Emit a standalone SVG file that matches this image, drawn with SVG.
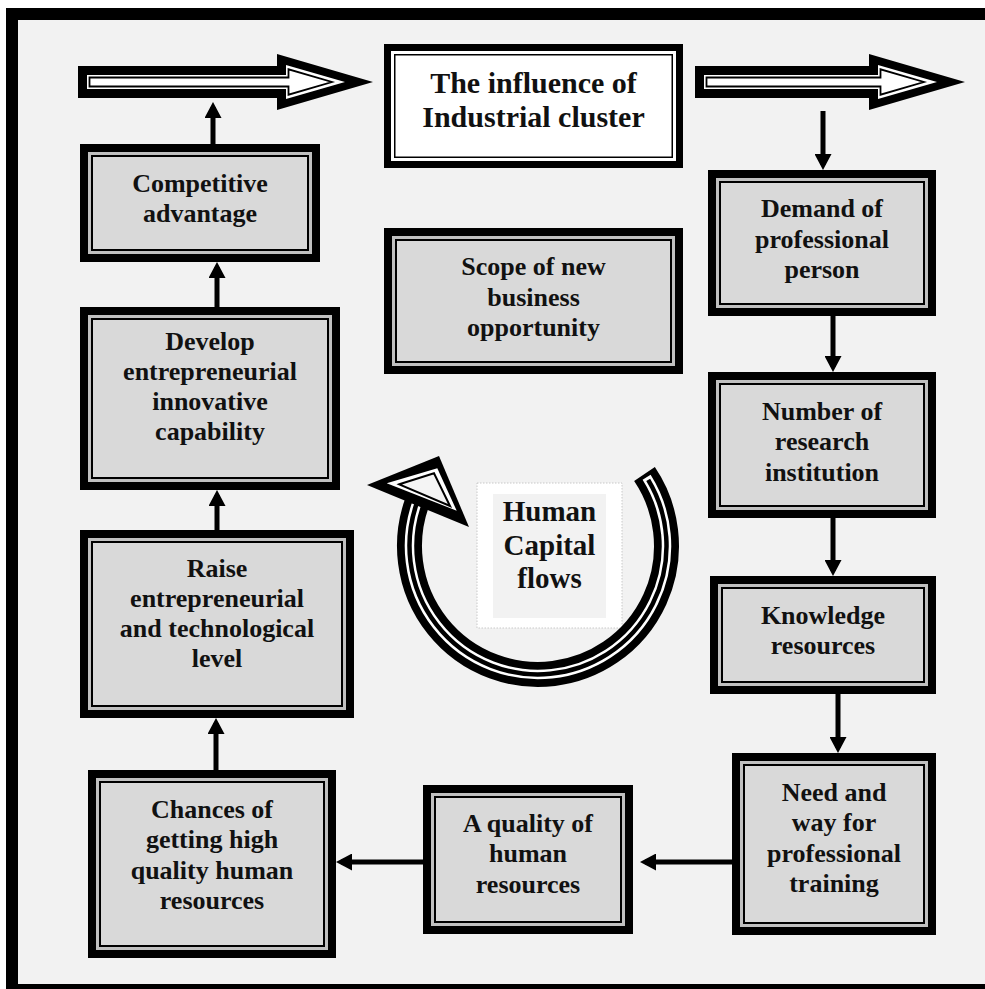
<svg xmlns="http://www.w3.org/2000/svg" width="985" height="989" viewBox="0 0 985 989">
  <style>
    .t { font-family: "Liberation Serif", "Times New Roman", serif; font-weight: bold; font-size: 26px; fill: #111; text-anchor: middle; }
    .tl { font-size: 30px; }
    .th { font-size: 29px; }
    .bo { fill: #c0c0c0; stroke: #000; stroke-width: 8; }
    .bi { fill: #d9d9d9; stroke: #000; stroke-width: 2; }
    .wo { fill: #fff; stroke: #000; stroke-width: 7; }
    .wi { fill: #fff; stroke: #000; stroke-width: 1.5; }
    .ln { stroke: #000; stroke-width: 5; fill: none; marker-end: url(#ah); }
  </style>
  <defs>
    <marker id="ah" markerUnits="userSpaceOnUse" viewBox="0 0 17 17" markerWidth="17" markerHeight="17" refX="11" refY="8.5" orient="auto">
      <path d="M0,0 L16,8.5 L0,17 z" fill="#000"/>
    </marker>
  </defs>

  <!-- page frame -->
  <rect x="0" y="0" width="985" height="989" fill="#fff"/>
  <rect x="12" y="14" width="979" height="976" fill="#f2f2f2" stroke="#000" stroke-width="12"/>

  <!-- block arrows along the top -->
  <g id="arrow-left">
    <polygon points="78,66 277,66 277,54 373,82 277,110 277,98 78,98" fill="#000"/>
    <polygon points="87,75 286,75 286,65 345,82 286,99 286,89 87,89" fill="#fff"/>
    <polygon points="89.5,77.5 288.5,77.5 288.5,69.3 331.9,82 288.5,94.7 288.5,86.5 89.5,86.5" fill="#fff" stroke="#000" stroke-width="1.8"/>
  </g>
  <g id="arrow-right">
    <polygon points="695,66 869,66 869,54 965,82 869,110 869,98 695,98" fill="#000"/>
    <polygon points="704,75 878,75 878,65 937,82 878,99 878,89 704,89" fill="#fff"/>
    <polygon points="706.5,77.5 880.5,77.5 880.5,69.3 923.9,82 880.5,94.7 880.5,86.5 706.5,86.5" fill="#fff" stroke="#000" stroke-width="1.8"/>
  </g>

  <!-- title -->
  <g id="industrial-cluster">
    <rect x="387.5" y="47.5" width="292" height="117" class="wo"/>
    <rect x="394.75" y="54.75" width="277.5" height="102.5" class="wi"/>
    <text class="t tl" x="533.5" y="93">The influence of</text>
    <text class="t tl" x="533.5" y="127">Industrial cluster</text>
  </g>

  <!-- left column -->
  <g id="competitive-advantage">
    <rect x="84" y="148" width="232" height="110" class="bo"/>
    <rect x="92" y="156" width="216" height="94" class="bi"/>
    <text class="t" x="200" y="192">Competitive</text>
    <text class="t" x="200" y="222">advantage</text>
  </g>
  <g id="develop-capability">
    <rect x="84" y="311" width="252" height="175" class="bo"/>
    <rect x="92" y="319" width="236" height="159" class="bi"/>
    <text class="t" x="210" y="350">Develop</text>
    <text class="t" x="210" y="380">entrepreneurial</text>
    <text class="t" x="210" y="410">innovative</text>
    <text class="t" x="210" y="440">capability</text>
  </g>
  <g id="raise-level">
    <rect x="84" y="534" width="266" height="180" class="bo"/>
    <rect x="92" y="542" width="250" height="164" class="bi"/>
    <text class="t" x="217" y="577">Raise</text>
    <text class="t" x="217" y="607">entrepreneurial</text>
    <text class="t" x="217" y="637">and technological</text>
    <text class="t" x="217" y="667">level</text>
  </g>
  <g id="chances-high-quality">
    <rect x="92" y="774" width="240" height="180" class="bo"/>
    <rect x="100" y="782" width="224" height="164" class="bi"/>
    <text class="t" x="212" y="818">Chances of</text>
    <text class="t" x="212" y="848">getting high</text>
    <text class="t" x="212" y="879">quality human</text>
    <text class="t" x="212" y="909">resources</text>
  </g>

  <!-- centre -->
  <g id="new-business-scope">
    <rect x="388" y="232" width="291" height="138" class="bo"/>
    <rect x="396" y="240" width="275" height="122" class="bi"/>
    <text class="t" x="533.5" y="275">Scope of new</text>
    <text class="t" x="533.5" y="305.5">business</text>
    <text class="t" x="533.5" y="336">opportunity</text>
  </g>

  <g id="human-capital-flows">
    <rect x="477" y="483" width="145" height="145" fill="#fff" stroke="#c8c8c8" stroke-width="1" stroke-dasharray="1.5 1.5"/>
    <rect x="493" y="494" width="113" height="124" fill="#f2f2f2"/>
    <text class="t th" x="549.5" y="521">Human</text>
    <text class="t th" x="549.5" y="555">Capital</text>
    <text class="t th" x="549.5" y="588">flows</text>
    <!-- circular flow arrow -->
    <path d="M644.5,474.1 A128.5,128.5 0 1 1 417.2,502.1" fill="none" stroke="#000" stroke-width="25"/>
    <path d="M646.6,477.3 A128.5,128.5 0 1 1 417.2,502.1" fill="none" stroke="#fff" stroke-width="9.5"/>
    <path d="M648.2,479.8 A128.5,128.5 0 1 1 417.2,502.1" fill="none" stroke="#000" stroke-width="4.5"/>
    <polygon points="367,485 439,456 469,527" fill="#000"/>
    <polygon points="386.7,483.3 437.3,468.3 456.7,510.7" fill="#fff"/>
    <polygon points="399.3,484.3 434,473.3 450,506" fill="#f4f4f4" stroke="#000" stroke-width="2"/>
  </g>

  <!-- right column -->
  <g id="demand-professional">
    <rect x="712" y="174" width="220" height="138" class="bo"/>
    <rect x="720" y="182" width="204" height="122" class="bi"/>
    <text class="t" x="822" y="217">Demand of</text>
    <text class="t" x="822" y="248">professional</text>
    <text class="t" x="822" y="278">person</text>
  </g>
  <g id="research-institution">
    <rect x="712" y="376" width="220" height="138" class="bo"/>
    <rect x="720" y="384" width="204" height="122" class="bi"/>
    <text class="t" x="822" y="419.5">Number of</text>
    <text class="t" x="822" y="450">research</text>
    <text class="t" x="822" y="480.5">institution</text>
  </g>
  <g id="knowledge-resources">
    <rect x="714" y="580" width="218" height="110" class="bo"/>
    <rect x="722" y="588" width="202" height="94" class="bi"/>
    <text class="t" x="823" y="623.5">Knowledge</text>
    <text class="t" x="823" y="654">resources</text>
  </g>
  <g id="professional-training">
    <rect x="736" y="757" width="196" height="174" class="bo"/>
    <rect x="744" y="765" width="180" height="158" class="bi"/>
    <text class="t" x="834" y="801">Need and</text>
    <text class="t" x="834" y="831">way for</text>
    <text class="t" x="834" y="862">professional</text>
    <text class="t" x="834" y="892">training</text>
  </g>

  <!-- bottom middle -->
  <g id="quality-human-resources">
    <rect x="427" y="789" width="202" height="141" class="bo"/>
    <rect x="435" y="797" width="186" height="125" class="bi"/>
    <text class="t" x="528" y="832">A quality of</text>
    <text class="t" x="528" y="862">human</text>
    <text class="t" x="528" y="893">resources</text>
  </g>

  <!-- connectors -->
  <g id="connectors">
    <line class="ln" x1="213" y1="144" x2="213" y2="107"/>
    <line class="ln" x1="217" y1="307" x2="217" y2="267"/>
    <line class="ln" x1="217" y1="530" x2="217" y2="495"/>
    <line class="ln" x1="216" y1="770" x2="216" y2="723"/>
    <line class="ln" x1="423" y1="862" x2="341" y2="862"/>
    <line class="ln" x1="732" y1="862" x2="645" y2="862"/>
    <line class="ln" x1="838" y1="694" x2="838" y2="748"/>
    <line class="ln" x1="833" y1="518" x2="833" y2="571"/>
    <line class="ln" x1="833" y1="316" x2="833" y2="367"/>
    <line class="ln" x1="823" y1="111" x2="823" y2="165"/>
  </g>
</svg>
